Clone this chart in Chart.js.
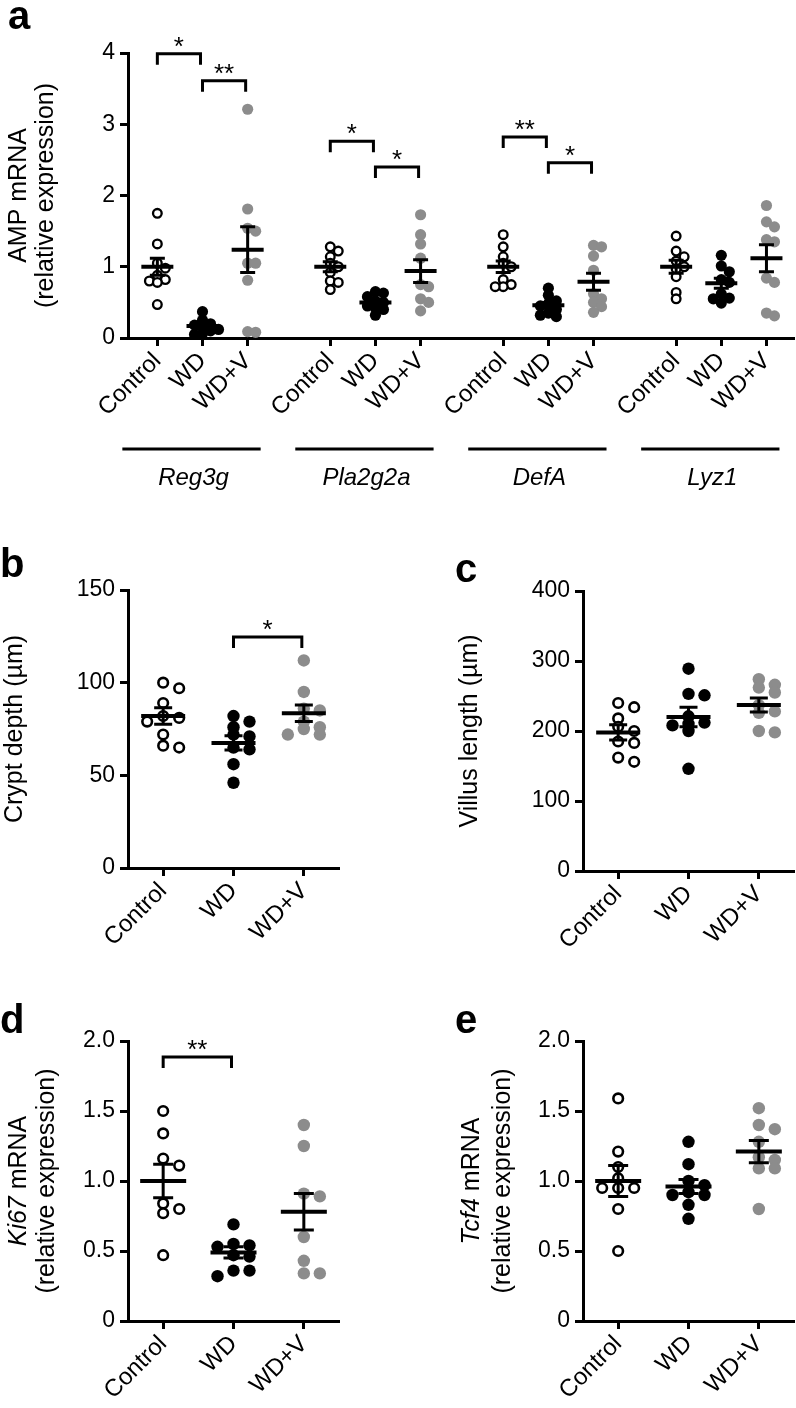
<!DOCTYPE html>
<html>
<head>
<meta charset="utf-8">
<script src="https://cdn.jsdelivr.net/npm/chart.js@4.4.1/dist/chart.umd.min.js"></script>
<style>
  html, body { margin: 0; padding: 0; background: #fff; }
  #fig { position: relative; width: 796px; height: 1408px; overflow: hidden; }
  canvas { position: absolute; }
</style>
</head>
<body>
<div id="fig">
  <canvas id="panelA" width="796" height="520" style="left:0;top:0"></canvas>
  <canvas id="panelB" width="398" height="440" style="left:0;top:520px"></canvas>
  <canvas id="panelC" width="398" height="440" style="left:398px;top:520px"></canvas>
  <canvas id="panelD" width="398" height="448" style="left:0;top:960px"></canvas>
  <canvas id="panelE" width="398" height="448" style="left:398px;top:960px"></canvas>
</div>
<script>
const GROUPS = ["Control", "WD", "WD+V"]
const GENES  = ["Reg3g", "Pla2g2a", "DefA", "Lyz1"]

// a: AMP mRNA (relative expression), [Control, WD, WD+V] per gene
const reg3g   = [[1.75, 1.32, 1.05, 0.98, 0.88, 0.82, 0.80, 0.78, 0.47],
                 [0.37, 0.25, 0.20, 0.18, 0.15, 0.12, 0.10, 0.06, 0.05],
                 [3.21, 1.81, 1.54, 1.50, 1.05, 1.05, 0.81, 0.09, 0.08]]
const pla2g2a = [[1.28, 1.22, 1.14, 1.05, 1.00, 0.92, 0.80, 0.78, 0.68],
                 [0.65, 0.63, 0.58, 0.52, 0.50, 0.45, 0.42, 0.40, 0.32],
                 [1.73, 1.45, 1.32, 1.12, 0.75, 0.72, 0.55, 0.50, 0.38]]
const defA    = [[1.45, 1.28, 1.14, 1.05, 1.00, 0.82, 0.75, 0.72, 0.72],
                 [0.70, 0.60, 0.52, 0.48, 0.45, 0.40, 0.35, 0.32, 0.30],
                 [1.30, 1.28, 1.15, 0.95, 0.62, 0.55, 0.50, 0.44, 0.36]]
const lyz1    = [[1.43, 1.22, 1.14, 1.08, 1.00, 0.97, 0.86, 0.64, 0.55],
                 [1.16, 1.01, 0.93, 0.82, 0.78, 0.62, 0.56, 0.55, 0.49],
                 [1.86, 1.63, 1.56, 1.38, 1.35, 0.84, 0.78, 0.35, 0.31]]
const ampMean  = [[1.00, 0.17, 1.24], [1.00, 0.50, 0.94], [1.00, 0.46, 0.79], [1.00, 0.77, 1.12]]
const ampSem   = [[0.12, 0.04, 0.32], [0.07, 0.04, 0.16], [0.08, 0.04, 0.12], [0.09, 0.07, 0.19]]
const ampTicks = [0, 1, 2, 3, 4]
// [gene, from group, to group, bracket height, label]
const ampSig   = [[0, 0, 1, 3.99, "*"], [0, 1, 2, 3.61, "**"],
                  [1, 0, 1, 2.76, "*"], [1, 1, 2, 2.40, "*"],
                  [2, 0, 1, 2.82, "**"], [2, 1, 2, 2.46, "*"]]

// b: crypt depth (µm)
const cryptDepth = [[100, 97, 89, 82, 81, 79, 72, 66, 65],
                    [82, 79, 76, 72, 71, 65, 64, 56, 46],
                    [112, 95, 86, 85, 79, 76, 75, 72, 72]]
const cryptMean  = [82, 67.5, 83.5]
const cryptSem   = [4.5, 3.8, 4.5]
const cryptTicks = [0, 50, 100, 150]
const cryptSig   = [[1, 2, 124.7, "*"]]

// c: villus length (µm)
const villusLength = [[240, 234, 218, 206, 200, 185, 183, 162, 156],
                      [289, 253, 251, 221, 212, 210, 208, 200, 146],
                      [274, 266, 262, 255, 237, 228, 226, 200, 198]]
const villusMean   = [198, 220, 237]
const villusSem    = [11, 14, 10]
const villusTicks  = [0, 100, 200, 300, 400]

// d: Ki67 mRNA
const ki67      = [[1.50, 1.34, 1.16, 1.11, 0.84, 0.80, 0.77, 0.47],
                   [0.69, 0.55, 0.54, 0.53, 0.47, 0.46, 0.36, 0.36, 0.32],
                   [1.40, 1.25, 0.91, 0.89, 0.60, 0.43, 0.34, 0.34]]
const ki67Mean  = [1.00, 0.49, 0.78]
const ki67Sem   = [0.12, 0.04, 0.13]
const ki67Sig   = [[0, 1, 1.886, "**"]]

// e: Tcf4 mRNA
const tcf4      = [[1.59, 1.21, 1.10, 1.02, 0.95, 0.95, 0.95, 0.80, 0.50],
                   [1.28, 1.12, 1.00, 0.97, 0.92, 0.90, 0.90, 0.83, 0.73],
                   [1.52, 1.40, 1.37, 1.28, 1.17, 1.15, 1.09, 1.09, 0.80]]
const tcf4Mean  = [1.00, 0.96, 1.21]
const tcf4Sem   = [0.11, 0.05, 0.08]
const mrnaTicks = [0, 0.5, 1.0, 1.5, 2.0]

const FONT = "'Liberation Sans', Arial, Helvetica, sans-serif"
const GROUP_STEP = 3.83   // spacing between gene blocks in panel a, in x units
const STYLE = [
  { fill: "#ffffff", line: "#000000", bw: 2.6, r: 4.8 },
  { fill: "#000000", line: "#000000", bw: 0,   r: 6.2 },
  { fill: "#8c8c8c", line: "#8c8c8c", bw: 0,   r: 6.2 },
]

Chart.defaults.font.family = FONT
Chart.defaults.font.size = 23
Chart.defaults.color = "#000"
Chart.defaults.animation = false
Chart.defaults.plugins.legend.display = false
Chart.defaults.plugins.tooltip.enabled = false

// mean line + SEM whiskers, drawn over the points
const meanSem = {
  id: "meanSem",
  afterDatasetsDraw(chart, args, o) {
    const { ctx, scales: { x, y } } = chart
    ctx.save()
    ctx.strokeStyle = "#000"
    o.centers.forEach((c, i) => {
      const px = x.getPixelForValue(c)
      const pm = y.getPixelForValue(o.mean[i])
      const hi = y.getPixelForValue(o.mean[i] + o.sem[i])
      const lo = y.getPixelForValue(o.mean[i] - o.sem[i])
      ctx.lineWidth = 3
      ctx.beginPath()
      ctx.moveTo(px, hi); ctx.lineTo(px, lo)
      ctx.moveTo(px - o.cap / 2, hi); ctx.lineTo(px + o.cap / 2, hi)
      ctx.moveTo(px - o.cap / 2, lo); ctx.lineTo(px + o.cap / 2, lo)
      ctx.stroke()
      ctx.lineWidth = 4
      ctx.beginPath()
      ctx.moveTo(px - o.len / 2, pm); ctx.lineTo(px + o.len / 2, pm)
      ctx.stroke()
    })
    ctx.restore()
  }
}

// panel letter, y title, significance brackets, gene underlines
const decor = {
  id: "decor",
  afterDraw(chart, args, o) {
    const { ctx, chartArea: area, scales: { x, y } } = chart
    ctx.save()
    ctx.fillStyle = "#000"
    ctx.strokeStyle = "#000"

    ctx.font = "bold 40px " + FONT
    ctx.textAlign = "left"
    ctx.textBaseline = "alphabetic"
    ctx.fillText(o.letter.text, o.letter.x, o.letter.y)

    o.title.forEach(line => {
      ctx.save()
      ctx.translate(line.x, (area.top + area.bottom) / 2)
      ctx.rotate(-Math.PI / 2)
      const fonts  = line.segs.map(s => (s.i ? "italic " : "") + "25px " + FONT)
      const widths = line.segs.map((s, k) => { ctx.font = fonts[k]; return ctx.measureText(s.t).width })
      let cx = -widths.reduce((a, b) => a + b, 0) / 2
      ctx.textBaseline = "middle"
      line.segs.forEach((s, k) => { ctx.font = fonts[k]; ctx.fillText(s.t, cx, 0); cx += widths[k] })
      ctx.restore()
    })

    ctx.lineWidth = 3
    ctx.lineCap = "butt"
    const brackets = o.brackets || []
    brackets.forEach(b => {
      const x1 = x.getPixelForValue(b.x1), x2 = x.getPixelForValue(b.x2) - 2
      const top = y.getPixelForValue(b.y)
      ctx.beginPath()
      ctx.moveTo(x1, top + 11); ctx.lineTo(x1, top); ctx.lineTo(x2, top); ctx.lineTo(x2, top + 11)
      ctx.stroke()
      ctx.font = "26px " + FONT
      ctx.textAlign = "center"
      ctx.textBaseline = "alphabetic"
      ctx.fillText(b.label, (x1 + x2) / 2, top + 1)
    })

    const genes = o.genes || []
    genes.forEach(g => {
      const x1 = x.getPixelForValue(g.from) - 35, x2 = x.getPixelForValue(g.to) + 13
      ctx.beginPath()
      ctx.moveTo(x1, area.bottom + 111); ctx.lineTo(x2, area.bottom + 111)
      ctx.stroke()
      ctx.font = "italic 24px " + FONT
      ctx.textAlign = "center"
      ctx.fillText(g.name, x.getPixelForValue(g.mid) - 9, area.bottom + 147)
    })
    ctx.restore()
  }
}

function groupDatasets(values, center, scale) {
  return values.map((vals, k) => ({
    center: center(k),
    data: vals.map(v => ({ x: center(k), y: v })),
    pointRadius: STYLE[k].r * scale,
    pointHoverRadius: STYLE[k].r * scale,
    pointBackgroundColor: STYLE[k].fill,
    pointBorderColor: STYLE[k].line,
    pointBorderWidth: STYLE[k].bw * scale,
    pointHoverBorderWidth: STYLE[k].bw * scale,
    showLine: false,
    clip: false,
  }))
}

// spread overlapping points sideways (simple beeswarm), then redraw
function swarm(chart, step, minDist) {
  const { x, y } = chart.scales
  const ppu = Math.abs(x.getPixelForValue(1) - x.getPixelForValue(0))
  chart.data.datasets.forEach(ds => {
    const placed = []
    const order = ds.data.map((p, i) => i).sort((a, b) => ds.data[b].y - ds.data[a].y)
    order.forEach(i => {
      const py = y.getPixelForValue(ds.data[i].y)
      for (let k = 0; k < 30; k++) {
        const off = (k % 2 ? 1 : -1) * Math.ceil(k / 2) * step
        if (placed.every(q => Math.hypot(q[0] - off, q[1] - py) >= minDist)) {
          placed.push([off, py])
          ds.data[i].x = ds.center + off / ppu
          break
        }
      }
    })
  })
  chart.update("none")
}

function makePanel(id, cfg) {
  const chart = new Chart(document.getElementById(id), {
    type: "scatter",
    data: { datasets: cfg.datasets },
    options: {
      responsive: false,
      devicePixelRatio: 1,
      events: [],
      layout: { autoPadding: false, padding: { left: 0, top: cfg.top, right: cfg.right, bottom: 0 } },
      scales: {
        x: {
          type: "linear",
          min: cfg.xMin,
          max: cfg.xMax,
          afterBuildTicks: s => { s.ticks = cfg.xTicks.map(v => ({ value: v })) },
          afterFit: s => { s.height = cfg.xHeight },
          ticks: { autoSkip: false, minRotation: 45, maxRotation: 45, padding: 1,
                   font: { size: 24 }, callback: (v, i) => cfg.xLabels[i] },
          grid: { drawOnChartArea: false, tickLength: 8, tickWidth: 3, tickColor: "#000" },
          border: { width: 3, color: "#000" },
        },
        y: {
          type: "linear",
          min: cfg.yTicks[0],
          max: cfg.yTicks[cfg.yTicks.length - 1],
          afterBuildTicks: s => { s.ticks = cfg.yTicks.map(v => ({ value: v })) },
          afterFit: s => { s.width = cfg.yWidth },
          ticks: { padding: 5, font: { size: 23 }, callback: cfg.yFmt },
          grid: { drawOnChartArea: false, tickLength: 8, tickWidth: 3, tickColor: "#000" },
          border: { width: 3, color: "#000" },
        },
      },
      plugins: { meanSem: cfg.meanSem, decor: cfg.decor },
    },
    plugins: [meanSem, decor],
  })
  swarm(chart, cfg.step, cfg.minDist)
  return chart
}

const fmtInt = v => String(v)
const fmtOne = v => (v === 0 ? "0" : v.toFixed(1))
const centers3 = [0, 1, 2]
const sig3 = list => list.map(s => ({ x1: s[0], x2: s[1], y: s[2], label: s[3] }))

// panel a
const ampValues = [reg3g, pla2g2a, defA, lyz1]
const ampCenter = (g, k) => g * GROUP_STEP + k
const ampDatasets = ampValues.flatMap((vals, g) => groupDatasets(vals, k => ampCenter(g, k), 0.9))
const ampCenters = GENES.flatMap((n, g) => centers3.map(k => ampCenter(g, k)))

makePanel("panelA", {
  datasets: ampDatasets,
  top: 53, right: 2, xHeight: 182, yWidth: 128,
  xMin: -0.65, xMax: 14.1,
  xTicks: ampCenters,
  xLabels: GENES.flatMap(() => GROUPS),
  yTicks: ampTicks, yFmt: fmtInt,
  step: 8, minDist: 6,
  meanSem: { centers: ampCenters, mean: ampMean.flat(), sem: ampSem.flat(), len: 32, cap: 15 },
  decor: {
    letter: { text: "a", x: 8, y: 29 },
    title: [{ x: 19, segs: [{ t: "AMP mRNA" }] }, { x: 46, segs: [{ t: "(relative expression)" }] }],
    brackets: ampSig.map(s => ({ x1: ampCenter(s[0], s[1]), x2: ampCenter(s[0], s[2]), y: s[3], label: s[4] })),
    genes: GENES.map((name, g) => ({ name, from: ampCenter(g, 0), mid: ampCenter(g, 1), to: ampCenter(g, 2) })),
  },
})

// panel b
makePanel("panelB", {
  datasets: groupDatasets(cryptDepth, k => k, 1),
  top: 70, right: 59, xHeight: 92, yWidth: 128,
  xMin: -0.5, xMax: 2.5, xTicks: centers3, xLabels: GROUPS,
  yTicks: cryptTicks, yFmt: fmtInt,
  step: 16, minDist: 7,
  meanSem: { centers: centers3, mean: cryptMean, sem: cryptSem, len: 44, cap: 18 },
  decor: {
    letter: { text: "b", x: 0, y: 577 - 520 },
    title: [{ x: 15, segs: [{ t: "Crypt depth (µm)" }] }],
    brackets: sig3(cryptSig),
  },
})

// panel c
makePanel("panelC", {
  datasets: groupDatasets(villusLength, k => k, 1),
  top: 71, right: 2, xHeight: 89, yWidth: 185,
  xMin: -0.5, xMax: 2.5, xTicks: centers3, xLabels: GROUPS,
  yTicks: villusTicks, yFmt: fmtInt,
  step: 16, minDist: 7,
  meanSem: { centers: centers3, mean: villusMean, sem: villusSem, len: 44, cap: 18 },
  decor: {
    letter: { text: "c", x: 57, y: 582 - 520 },
    title: [{ x: 72, segs: [{ t: "Villus length (µm)" }] }],
  },
})

// panel d
makePanel("panelD", {
  datasets: groupDatasets(ki67, k => k, 1),
  top: 81, right: 59, xHeight: 87, yWidth: 128,
  xMin: -0.5, xMax: 2.5, xTicks: centers3, xLabels: GROUPS,
  yTicks: mrnaTicks, yFmt: fmtOne,
  step: 16, minDist: 7,
  meanSem: { centers: centers3, mean: ki67Mean, sem: ki67Sem, len: 46, cap: 20 },
  decor: {
    letter: { text: "d", x: 0, y: 1033 - 960 },
    title: [{ x: 19, segs: [{ t: "Ki67", i: true }, { t: " mRNA" }] }, { x: 47, segs: [{ t: "(relative expression)" }] }],
    brackets: sig3(ki67Sig),
  },
})

// panel e
makePanel("panelE", {
  datasets: groupDatasets(tcf4, k => k, 1),
  top: 81, right: 2, xHeight: 87, yWidth: 185,
  xMin: -0.5, xMax: 2.5, xTicks: centers3, xLabels: GROUPS,
  yTicks: mrnaTicks, yFmt: fmtOne,
  step: 16, minDist: 7,
  meanSem: { centers: centers3, mean: tcf4Mean, sem: tcf4Sem, len: 46, cap: 20 },
  decor: {
    letter: { text: "e", x: 57, y: 1033 - 960 },
    title: [{ x: 74, segs: [{ t: "Tcf4", i: true }, { t: " mRNA" }] }, { x: 105, segs: [{ t: "(relative expression)" }] }],
  },
})
</script>
</body>
</html>
